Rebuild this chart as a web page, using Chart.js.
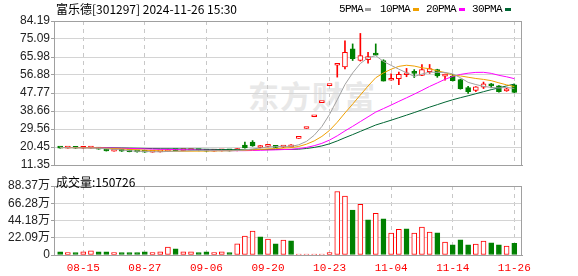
<!DOCTYPE html>
<html>
<head>
<meta charset="utf-8">
<script src="https://cdn.jsdelivr.net/npm/chart.js@4.4.1/dist/chart.umd.min.js"></script>
<style>
  body { margin: 0; background: #fff; }
  #box { position: relative; width: 578px; height: 276px; overflow: hidden; }
  #box canvas { position: absolute; left: 0; }
  .t { position: absolute; white-space: nowrap; font: 12px "Noto Sans CJK SC", sans-serif; line-height: 14px; color: #000; }
  .lg { position: absolute; top: 3px; font: 11px "Liberation Mono", monospace; letter-spacing: -0.6px; line-height: 12px; color: #000; }
  .sw { position: absolute; top: 8px; width: 6px; height: 3px; }
  #wm { position: absolute; left: 248px; top: 72px; font: bold 31px "Noto Sans CJK SC", sans-serif; color: #e8e8e8; letter-spacing: 1px; }
</style>
</head>
<body>
<div id="box">
  <div id="wm">东方财富</div>
  <canvas id="price" width="578" height="176" style="top:0"></canvas>
  <canvas id="vol" width="578" height="100" style="top:176px"></canvas>
  <div class="t" style="left:56px;top:2px">富乐德[301297] 2024-11-26 15:30</div>
  <div class="t" style="left:56px;top:175px">成交量:150726</div>
  <div class="lg" style="left:339px">5PMA</div><div class="sw" style="left:365px;background:#a0a0a0"></div>
  <div class="lg" style="left:380px">10PMA</div><div class="sw" style="left:413px;background:#f0a000"></div>
  <div class="lg" style="left:426px">20PMA</div><div class="sw" style="left:459px;background:#ff00ff"></div>
  <div class="lg" style="left:472px">30PMA</div><div class="sw" style="left:505px;background:#006633"></div>
</div>
<script>
// date ticks (trading-day index -> label)
const dateIdx = [3, 11, 19, 27, 35, 43, 51, 59];
const dates = ['08-15', '08-27', '09-06', '09-20', '10-23', '11-04', '11-14', '11-26'];

// daily candles
const open = [20.2,19.9,20.0,19.8,19.9,20.0,19.3,18.4,18.6,18.4, 18.1,18.0,17.9,18.0,18.2,18.9,18.6,18.7,18.8,18.6,
  18.4,18.5,18.6,18.6,21.4,23.0,20.2,20.8,20.6,20.4, 20.5,24.84,29.81,35.77,42.92,51.51,61.81,60.9,70.1,64.2,
  64.6,67.8,64.2,54.2,55.0,57.0,57.8,56.7,58.5,59.6, 56.3,56.3,54.6,50.5,49.1,50.7,51.5,51.4,48.8,51.9];
const high = [20.4,20.2,20.1,20.0,20.2,20.0,19.4,18.8,18.7,18.5, 18.2,18.1,18.1,18.3,19.4,19.0,18.8,18.9,18.8,18.6,
  18.6,18.7,18.6,19.6,22.9,23.7,21.2,21.7,20.9,21.0, 21.7,24.84,29.81,35.77,42.92,51.51,61.81,74.2,72.6,77.9,
  68.4,72.6,64.6,57.5,58.3,60.2,59.6,62.2,62.2,59.8, 57.3,57.2,54.8,51.2,51.0,53.3,52.6,51.5,50.2,52.3];
const low = [19.8,19.8,19.7,19.7,19.8,19.3,18.4,18.3,18.2,18.0, 17.9,17.8,17.8,17.9,18.1,18.5,18.5,18.6,18.5,18.3,
  18.3,18.4,18.4,18.5,19.9,20.8,20.0,20.5,20.1,20.2, 20.4,24.84,29.81,35.77,42.92,51.51,55.8,60.0,64.2,63.9,
  62.9,66.9,53.8,54.2,52.0,56.0,55.6,56.5,57.7,55.7, 54.3,53.8,49.7,47.6,48.5,50.0,50.4,48.2,48.6,47.9];
const close = [19.9,20.0,19.8,19.9,20.0,19.4,18.5,18.6,18.3,18.1, 18.0,17.9,18.0,18.2,18.9,18.6,18.7,18.8,18.6,18.4,
  18.5,18.6,18.5,19.3,20.0,21.0,20.8,21.2,20.3,20.8, 20.7,24.84,29.81,35.77,42.92,51.51,61.81,68.3,65.1,66.7,
  66.2,66.9,53.8,55.0,57.2,57.1,57.7,59.6,60.1,56.4, 57.1,54.0,49.9,48.4,50.9,52.4,51.4,48.4,49.9,48.1];
const prevClose = 20.2;

// moving averages as drawn
const ma5 = [20.14,20.10,20.02,19.96,19.92,19.82,19.52,19.28,18.96,18.58, 18.30,18.18,18.06,18.04,18.20,18.32,18.48,18.64,18.72,18.62,
  18.60,18.58,18.52,18.66,18.98,19.48,19.92,20.46,20.66,20.82, 20.76,21.57,23.29,26.38,30.81,36.97,44.36,52.06,57.93,62.68,
  65.62,66.64,63.74,61.72,59.82,58.00,56.16,57.32,58.34,58.18, 58.18,57.44,55.50,53.16,52.06,51.12,50.60,50.30,50.60,50.04];
const ma10 = [20.17,20.15,20.11,20.08,20.06,19.98,19.81,19.65,19.46,19.25, 19.06,18.85,18.67,18.50,18.39,18.31,18.33,18.35,18.38,18.41,
  18.46,18.53,18.58,18.69,18.80,19.04,19.25,19.49,19.66,19.90, 20.12,20.74,21.88,23.52,25.81,28.87,32.97,37.68,42.16,46.75,
  51.30,55.50,57.90,59.82,61.25,61.81,61.40,60.53,60.03,59.00, 58.09,56.80,56.41,55.75,55.12,54.65,54.02,52.90,51.88,51.05];
const ma20 = [20.19,20.18,20.16,20.14,20.13,20.09,20.01,19.93,19.83,19.73, 19.62,19.50,19.39,19.29,19.23,19.15,19.07,19.00,18.92,18.83,
  18.76,18.69,18.63,18.60,18.60,18.68,18.79,18.92,19.02,19.16, 19.29,19.64,20.23,21.11,22.31,23.95,26.11,28.58,30.91,33.32,
  35.71,38.12,39.89,41.67,43.53,45.34,47.18,49.10,51.09,52.87, 54.69,56.15,57.16,57.79,58.19,58.23,57.71,56.72,55.96,55.03];
const ma30 = [20.19,20.18,20.17,20.16,20.15,20.13,20.07,20.02,19.95,19.88, 19.81,19.73,19.66,19.59,19.55,19.50,19.45,19.40,19.35,19.29,
  19.23,19.18,19.12,19.09,19.08,19.11,19.13,19.16,19.17,19.19, 19.21,19.37,19.71,20.24,21.00,22.07,23.52,25.17,26.73,28.35,
  29.96,31.59,32.79,34.01,35.29,36.57,37.87,39.23,40.62,41.88, 43.17,44.35,45.40,46.37,47.40,48.44,49.46,50.37,51.36,52.27];

// volume, in 万手
const volume = [4.2,3.0,3.0,4.2,5.5,4.2,4.2,3.0,3.0,3.0, 3.0,4.2,3.0,4.2,10.2,8.0,4.2,4.2,3.0,4.2,
  3.0,4.2,3.0,14.4,24.1,30.5,23.3,20.3,14.4,19.1, 18.2,1.2,1.2,1.2,1.2,3.0,81.3,75.4,57.6,64.8,
  44.9,53.4,46.2,28.0,33.0,33.5,28.0,35.6,29.2,28.4, 16.5,13.1,19.5,13.1,14.0,17.8,15.7,13.1,11.4,15.07];

// axis ticks
const priceTicks = [11.35, 20.45, 29.56, 38.66, 47.77, 56.88, 65.98, 75.09, 84.19];
const volTicks = [0, 22.09, 44.18, 66.28, 88.37];
const volTickLabels = ['0', '22.09万', '44.18万', '66.28万', '88.37万'];

const RED = '#ff0000', GREEN = '#008000';
const idx = close.map((_, i) => i);
const candleUp = close.map((c, i) => c >= open[i]);
const volUp = close.map((c, i) => c >= (i ? close[i - 1] : prevClose));

const frame = {
  id: 'frame',
  afterDraw(chart) {
    const a = chart.chartArea, c = chart.ctx;
    const l = Math.round(a.left), t = Math.round(a.top), r = Math.round(a.right), b = Math.round(a.bottom);
    c.save();
    c.strokeStyle = '#a0a0a0';
    c.lineWidth = 1;
    c.strokeRect(l + 0.5, t + 0.5, r - l - 1, b - t);
    c.restore();
  }
};

function xAxis(showLabels, h) {
  return {
    type: 'linear', min: -0.8, max: 60, offset: false, bounds: 'data',
    afterBuildTicks: s => { s.ticks = dateIdx.map(v => ({ value: v })); },
    afterFit: s => { s.height = h; },
    grid: { color: '#c8c8c8', drawTicks: false, offset: false },
    border: { display: true, color: '#a0a0a0', dash: [4, 4] },
    ticks: {
      display: showLabels, autoSkip: false, maxRotation: 0, padding: 6, color: RED,
      font: { family: '"Liberation Mono", monospace', size: 11 },
      callback: (v, i) => dates[i]
    }
  };
}

function yAxis(min, max, vals, labels) {
  return {
    min: min, max: max, bounds: 'data',
    afterBuildTicks: s => { s.ticks = vals.map(v => ({ value: v })); },
    afterFit: s => { s.width = 54; },
    grid: { color: '#d4d4d4', tickLength: 3, tickColor: '#a0a0a0' },
    border: { color: '#a0a0a0' },
    ticks: {
      autoSkip: false, padding: 1, color: '#222',
      font: { family: '"Liberation Sans", "Noto Sans CJK SC", sans-serif', size: 12 },
      callback: (v, i) => labels[i]
    }
  };
}

new Chart(document.getElementById('price'), {
  type: 'bar',
  data: {
    labels: idx,
    datasets: [
      { type: 'line', data: ma5, borderColor: '#a0a0a0', borderWidth: 1, pointRadius: 0, order: 0 },
      { type: 'line', data: ma10, borderColor: '#f0a000', borderWidth: 1, pointRadius: 0, order: 0 },
      { type: 'line', data: ma20, borderColor: '#ff00ff', borderWidth: 1, pointRadius: 0, order: 0 },
      { type: 'line', data: ma30, borderColor: '#006633', borderWidth: 1, pointRadius: 0, order: 0 },
      {
        data: open.map((o, i) => [o, close[i]]), order: 1, grouped: false,
        barThickness: 5, minBarLength: 2, borderWidth: 1, borderSkipped: false,
        borderColor: candleUp.map(u => u ? RED : GREEN),
        backgroundColor: candleUp.map(u => u ? '#ffffff' : GREEN)
      },
      {
        data: low.map((l, i) => [l, high[i]]), order: 2, grouped: false,
        barThickness: 1, borderWidth: 0,
        backgroundColor: candleUp.map(u => u ? RED : GREEN)
      }
    ]
  },
  options: {
    responsive: false, animation: false, events: [],
    layout: { padding: { left: 0, right: 56, top: 21, bottom: 11 } },
    plugins: { legend: { display: false }, tooltip: { enabled: false } },
    scales: {
      x: xAxis(false, 0),
      y: yAxis(11.35, 84.19, priceTicks, priceTicks.map(v => v.toFixed(2)))
    }
  },
  plugins: [frame]
});

new Chart(document.getElementById('vol'), {
  type: 'bar',
  data: {
    labels: idx,
    datasets: [{
      data: volume, barThickness: 5, minBarLength: 1, borderWidth: 1, borderSkipped: false,
      borderColor: volUp.map(u => u ? RED : GREEN),
      backgroundColor: volUp.map(u => u ? '#ffffff' : GREEN)
    }]
  },
  options: {
    responsive: false, animation: false, events: [],
    layout: { padding: { left: 0, right: 56, top: 10, bottom: 0 } },
    plugins: { legend: { display: false }, tooltip: { enabled: false } },
    scales: {
      x: xAxis(true, 21),
      y: yAxis(0, 88.37, volTicks, volTickLabels)
    }
  },
  plugins: [frame]
});
</script>
</body>
</html>
